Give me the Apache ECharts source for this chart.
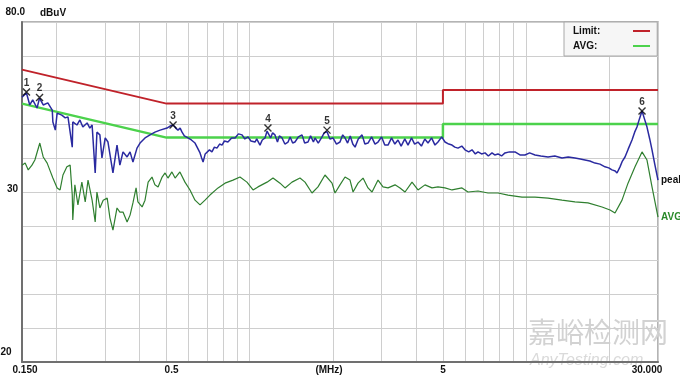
<!DOCTYPE html>
<html><head><meta charset="utf-8">
<script src="https://cdn.jsdelivr.net/npm/echarts@6/dist/echarts.min.js"></script>
<style>html,body{margin:0;padding:0;background:#fff}#c{width:680px;height:380px}</style>
</head><body><div id="c"></div>
<script>
// ---- data (frequency in MHz, level in dBuV) ----
const peakFreq = [0.150,0.1557,0.160,0.164,0.170,0.1736,0.179,0.186,0.193,0.194,0.198,0.201,0.209,0.215,0.220,0.228,0.229,0.237,0.243,0.249,0.258,0.264,0.269,0.276,0.280,0.287,0.292,0.300,0.307,0.320,0.331,0.339,0.348,0.360,0.369,0.378,0.391,0.401,0.418,0.436,0.454,0.474,0.502,0.515,0.528,0.540,0.550,0.560,0.569,0.580,0.598,0.615,0.634,0.645,0.661,0.670,0.678,0.690,0.701,0.715,0.730,0.745,0.761,0.778,0.794,0.810,0.834,0.860,0.885,0.910,0.938,0.960,0.986,1.010,1.045,1.060,1.089,1.110,1.136,1.155,1.174,1.190,1.210,1.234,1.260,1.280,1.309,1.340,1.376,1.400,1.430,1.458,1.500,1.546,1.580,1.625,1.660,1.700,1.723,1.770,1.826,1.860,1.904,1.950,2.001,2.060,2.121,2.170,2.212,2.260,2.310,2.360,2.405,2.470,2.549,2.610,2.679,2.760,2.840,2.912,3.000,3.080,3.165,3.260,3.350,3.439,3.530,3.640,3.738,3.850,3.950,4.062,4.180,4.300,4.416,4.550,4.680,4.799,4.950,5.087,5.250,5.393,5.520,5.669,5.850,6.009,6.200,6.371,6.550,6.698,6.900,7.100,7.300,7.525,7.700,7.910,8.150,8.387,8.700,9.114,9.500,9.906,10.30,10.77,11.30,12.00,12.70,13.48,14.20,15.02,15.70,16.33,17.00,17.75,18.50,19.29,19.90,20.45,21.00,21.32,21.86,22.30,22.79,23.40,24.16,24.70,25.18,25.70,26.26,26.80,27.37,28.00,28.54,29.20,30.00];
const peakLevel = [57.9,59.1,55.6,57.1,54.7,57.6,55.6,56.2,54.1,50.6,48.2,53.2,52.6,51.8,52.1,43.2,50.6,49.7,51.2,49.1,50.3,48.8,49.7,35.6,47.6,46.8,40.0,45.9,44.7,35.6,43.8,37.9,41.8,40.3,41.8,38.8,42.9,44.4,45.9,46.8,47.6,48.2,48.8,49.4,49.7,48.8,48.2,48.8,47.6,46.5,45.9,45.3,44.4,43.2,41.5,40.0,38.8,41.2,40.9,42.4,41.8,43.2,42.9,44.1,43.8,45.0,44.7,45.9,45.9,47.1,46.8,45.6,46.2,45.0,44.7,45.6,43.8,45.3,45.9,47.9,48.0,45.9,47.4,46.8,44.7,46.5,45.9,44.1,44.7,46.2,44.4,44.7,46.2,46.8,44.4,44.7,46.5,44.7,45.9,44.4,46.2,47.4,47.7,45.6,45.9,44.1,44.7,46.8,45.9,44.4,46.5,44.1,43.2,45.6,46.8,44.1,44.4,46.2,44.1,44.7,46.2,43.8,43.8,45.9,44.1,45.3,43.5,45.6,43.8,45.9,44.1,44.7,43.5,45.6,44.4,45.9,43.8,44.7,46.2,44.7,44.1,43.8,43.2,42.9,43.5,42.4,41.8,42.4,41.2,41.8,41.2,41.5,40.6,41.5,40.9,41.2,40.6,41.5,41.8,41.8,40.9,40.9,41.5,40.9,40.6,40.3,40.6,40.0,40.3,40.0,39.7,39.4,39.1,38.5,38.2,37.4,37.1,36.5,36.2,35.6,37.4,39.1,40.3,42.6,45.3,47.6,49.1,51.5,53.8,51.5,49.1,45.6,42.4,38.2,33.5];

const avgFreq = [0.150,0.154,0.158,0.163,0.167,0.174,0.179,0.185,0.189,0.194,0.201,0.206,0.211,0.218,0.224,0.228,0.229,0.233,0.239,0.247,0.254,0.260,0.269,0.276,0.280,0.287,0.295,0.305,0.312,0.320,0.331,0.339,0.348,0.360,0.369,0.378,0.388,0.394,0.408,0.418,0.429,0.443,0.454,0.466,0.482,0.494,0.506,0.523,0.537,0.559,0.583,0.608,0.634,0.661,0.689,0.718,0.768,0.814,0.870,0.922,0.977,1.028,1.071,1.155,1.214,1.287,1.342,1.422,1.520,1.585,1.680,1.766,1.872,1.985,2.035,2.121,2.212,2.306,2.365,2.465,2.570,2.679,2.770,2.912,3.035,3.165,3.355,3.497,3.646,3.865,4.062,4.306,4.565,4.799,5.087,5.393,5.861,6.162,6.698,7.279,7.910,8.599,9.663,10.77,12.00,13.48,15.02,16.74,18.82,20.12,20.97,22.23,23.37,24.77,26.26,27.37,28.54,30.00];
const avgLevel = [37.9,38.5,36.5,37.9,39.4,44.4,40.3,38.5,36.5,34.1,31.2,30.6,35.0,37.4,37.9,29.1,21.8,32.1,26.2,32.9,27.1,33.5,27.6,21.2,30.0,25.3,27.6,28.2,22.4,18.8,25.3,24.1,24.1,21.2,23.2,26.8,31.2,27.1,25.6,27.6,32.9,34.4,32.1,31.5,34.4,35.6,34.1,35.9,34.1,35.9,32.9,30.6,27.6,26.2,27.6,29.1,31.2,32.6,33.5,34.4,32.9,30.6,31.5,32.9,34.1,32.6,31.2,32.9,34.1,32.9,29.7,31.5,35.0,32.6,29.7,32.1,34.4,33.5,30.0,32.6,34.1,31.2,30.0,33.5,31.5,31.2,32.1,31.2,30.0,32.9,30.6,32.1,31.2,31.5,31.2,30.6,31.2,30.0,30.3,29.7,29.7,29.1,28.5,28.5,28.2,27.6,27.1,26.8,25.6,24.7,23.8,27.6,32.6,37.4,41.8,39.4,31.5,22.6];

const limitFreq = [0.15, 0.5, 5, 5, 30];
const limitLevel = [66, 56, 56, 60, 60];
const avgLimitFreq = [0.15, 0.5, 5, 5, 30];
const avgLimitLevel = [56, 46, 46, 50, 50];

const markerFreq = [0.1557, 0.1736, 0.528, 1.164, 1.904, 26.26];
const markerLevel = [59.4, 57.8, 49.7, 48.8, 48.2, 53.8];
const markerNames = ['1', '2', '3', '4', '5', '6'];

const gridFreqs = [0.15,0.2,0.3,0.4,0.5,0.6,0.7,0.8,0.9,1,2,3,4,5,6,7,8,9,10,20,30];
const xTickValues = [0.15, 0.5, 5, 30];
const xTickText = ['0.150', '0.5', '5', '30.000'];
const yTickValues = [80, 30, -20];
const yTickText = ['80.0', '30', '-20'];
const legendNames = ['Limit:', 'AVG:'];

// ---- build ----
const L = Math.log10;
const pairs = (f, v) => f.map((x, i) => [L(x), v[i]]);
const FONT = 'Liberation Sans, Arial, sans-serif';
const lab = {fontFamily: FONT, fontSize: 10, fontWeight: 'bold', color: '#111'};

const chart = echarts.init(document.getElementById('c'), null, {renderer: 'canvas'});
chart.setOption({
  animation: false,
  backgroundColor: '#ffffff',
  grid: {left: 22, right: 22, top: 22, bottom: 18, containLabel: false, outerBoundsMode: 'none',
         show: true, borderColor: '#9c9c9c', borderWidth: 1.5},
  legend: [
    { // text column + box
      data: legendNames, orient: 'vertical', left: 564, top: 22, align: 'left',
      backgroundColor: '#f6f6f6', borderColor: '#a8a8a8', borderWidth: 1,
      padding: [3, 57, 4, 4], itemGap: 3, itemWidth: 0, itemHeight: 12, icon: 'none',
      selectedMode: false,
      textStyle: Object.assign({lineHeight: 12}, lab)
    },
    { // line samples column
      data: legendNames, orient: 'vertical', left: 633, top: 22, align: 'left',
      padding: [3, 0, 4, 0], itemGap: 3, itemWidth: 17, itemHeight: 2, icon: 'rect',
      selectedMode: false, formatter: () => ' ',
      textStyle: Object.assign({lineHeight: 12}, lab)
    }
  ],
  xAxis: {
    type: 'value', min: L(0.15), max: L(30),
    axisLine: {show: true, onZero: false, lineStyle: {color: '#707070', width: 2}},
    axisTick: {show: false, customValues: gridFreqs.map(L)},
    splitLine: {show: true, lineStyle: {color: '#cecece', width: 1}},
    axisLabel: Object.assign({
      customValues: xTickValues.map(L), margin: 3, hideOverlap: false,
      formatter: function (v) {
        for (let i = 0; i < xTickValues.length; i++) {
          if (Math.abs(L(xTickValues[i]) - v) < 1e-6) return '{x' + i + '|' + xTickText[i] + '}';
        }
        return '';
      },
      rich: {
        x0: Object.assign({padding: [0, 0, 0, 6]}, lab),
        x1: Object.assign({padding: [0, 0, 0, 10]}, lab),
        x2: Object.assign({}, lab),
        x3: Object.assign({padding: [0, 22, 0, 0]}, lab)
      }
    }, lab),
    name: '(MHz)', nameLocation: 'middle', nameGap: 3, nameMoveOverlap: false,
    nameTextStyle: Object.assign({verticalAlign: 'top', padding: [0, 22, 0, 0]}, lab)
  },
  yAxis: {
    type: 'value', min: -20, max: 80, interval: 10,
    axisLine: {show: true, onZero: false, lineStyle: {color: '#707070', width: 2}},
    axisTick: {show: false},
    splitLine: {show: true, lineStyle: {color: '#cecece', width: 1}},
    axisLabel: Object.assign({
      customValues: yTickValues, align: 'right', margin: -3, hideOverlap: false,
      formatter: function (v) {
        for (let i = 0; i < yTickValues.length; i++) {
          if (Math.abs(yTickValues[i] - v) < 1e-6) return '{y' + i + '|' + yTickText[i] + '}';
        }
        return '';
      },
      rich: {
        y0: Object.assign({padding: [0, 0, 20, 0]}, lab),
        y1: Object.assign({padding: [0, 7, 6, 0]}, lab),
        y2: Object.assign({padding: [0, 13.5, 20, 0]}, lab)
      }
    }, lab),
    name: 'dBuV', nameLocation: 'end', nameGap: 9, nameMoveOverlap: false,
    nameTextStyle: Object.assign({align: 'left', verticalAlign: 'middle', padding: [0, 0, 0, 18]}, lab)
  },
  series: [
    {name: 'Limit:', type: 'line', data: pairs(limitFreq, limitLevel), symbol: 'none', z: 3,
     color: '#c0222a', lineStyle: {color: '#c0222a', width: 2}},
    {name: 'AVG:', type: 'line', data: pairs(avgLimitFreq, avgLimitLevel), symbol: 'none', z: 3,
     color: '#4cd24c', lineStyle: {color: '#4cd24c', width: 2.5}},
    {name: 'peak', type: 'line', data: pairs(peakFreq, peakLevel), symbol: 'none', z: 4,
     color: '#2a2aa0', lineStyle: {color: '#2a2aa0', width: 1.5},
     endLabel: Object.assign({show: true, formatter: 'peak', distance: 3}, lab)},
    {name: 'AVG', type: 'line', data: pairs(avgFreq, avgLevel), symbol: 'none', z: 4,
     color: '#2f7f2f', lineStyle: {color: '#2f7f2f', width: 1.2},
     endLabel: Object.assign({show: true, formatter: 'AVG', distance: 3}, lab, {color: '#2a8a2a'})},
    {name: 'markers', type: 'scatter', data: pairs(markerFreq, markerLevel), z: 6,
     symbol: 'path://M0,0L10,10M10,0L0,10', symbolSize: 7,
     itemStyle: {color: 'rgba(0,0,0,0)', borderColor: '#000', borderWidth: 1.4},
     label: {show: true, position: 'top', distance: 0, fontFamily: FONT, fontSize: 10, fontWeight: 'bold', color: '#000',
             formatter: p => markerNames[p.dataIndex]}}
  ],
  graphic: [
    {type: 'text', left: 528, top: 318, silent: true, z: 0,
     style: {text: '嘉峪检测网', font: '28px "Noto Sans CJK SC"', fill: '#d2d2d2'}},
    {type: 'text', left: 530, top: 353, silent: true, z: 0,
     style: {text: 'AnyTesting.com', font: 'italic 16px "Liberation Sans"', fill: '#dadada'}}
  ]
});
</script></body></html>
